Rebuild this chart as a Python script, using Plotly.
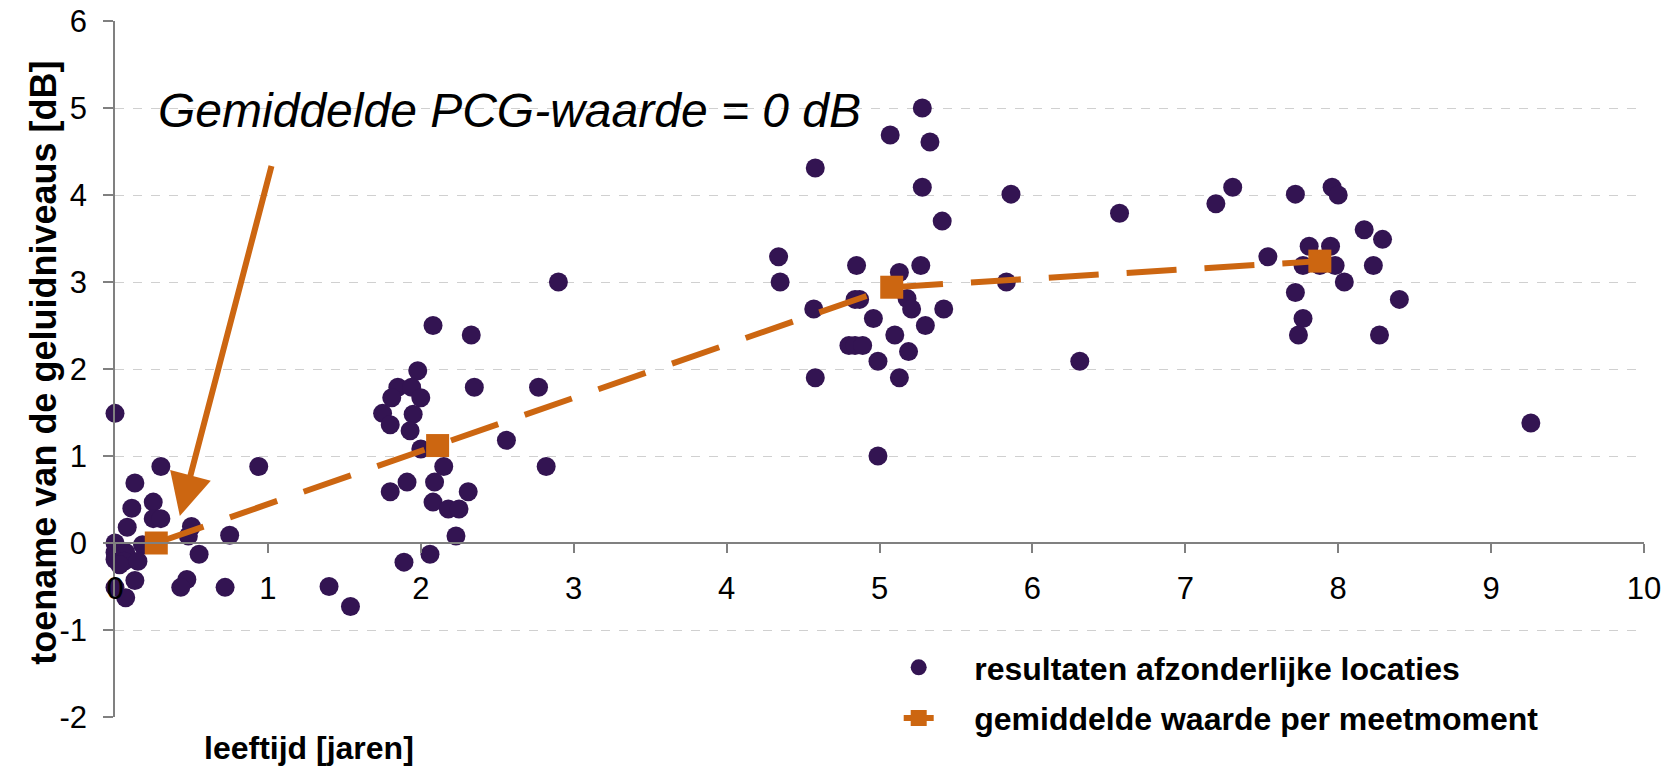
import plotly.graph_objects as go

# individual locations: age [years] and increase of noise level [dB]
age = [
    0.00, 0.30, 0.94, 0.13, 0.25, 0.11, 0.25, 0.30, 0.08, 0.50, 0.48, 0.75, 0.18, 0.00,
    0.00, 0.07, 0.00, 0.06, 0.15, 0.03, 0.55, 0.13, 0.47, 0.43, 0.72, 0.00, 0.07, 1.40, 1.54,
    2.08, 2.33, 1.98, 1.85, 1.94, 1.81, 2.00, 2.35, 2.77, 1.75, 1.95, 1.80, 1.93, 2.00,
    2.56, 2.15, 2.82, 1.91, 2.09, 1.80, 2.31, 2.08, 2.18, 2.25, 2.23, 2.06, 1.89, 2.90,
    5.28, 5.07, 5.33, 4.58, 5.28, 5.86, 5.41, 4.34, 4.35, 4.85, 5.27, 5.13, 5.83, 4.84,
    4.87, 5.18, 5.21, 5.42, 4.57, 4.96, 5.30, 5.10, 4.80, 4.84, 4.89, 5.19, 4.99, 4.58,
    5.13, 4.99, 6.57, 6.31,
    7.31, 7.20, 7.72, 7.96, 8.00, 7.54, 8.17, 8.29, 7.81, 7.95, 7.77, 7.88, 7.98, 8.23,
    8.04, 7.72, 8.40, 7.77, 7.74, 8.27, 9.26,
]
increase = [
    1.49, 0.88, 0.88, 0.69, 0.47, 0.40, 0.28, 0.28, 0.18, 0.19, 0.08, 0.09, -0.02, 0.00,
    -0.11, -0.11, -0.19, -0.21, -0.21, -0.25, -0.13, -0.43, -0.42, -0.51, -0.51, -0.51, -0.63, -0.50, -0.73,
    2.50, 2.39, 1.98, 1.79, 1.79, 1.67, 1.67, 1.79, 1.79, 1.49, 1.48, 1.36, 1.29, 1.08,
    1.18, 0.88, 0.88, 0.70, 0.70, 0.59, 0.59, 0.47, 0.39, 0.39, 0.08, -0.13, -0.22, 3.00,
    5.00, 4.69, 4.61, 4.31, 4.09, 4.01, 3.70, 3.29, 3.00, 3.19, 3.19, 3.11, 3.00, 2.80,
    2.80, 2.81, 2.69, 2.69, 2.69, 2.58, 2.50, 2.39, 2.27, 2.27, 2.27, 2.20, 2.09, 1.90,
    1.90, 1.00, 3.79, 2.09,
    4.09, 3.90, 4.01, 4.09, 4.00, 3.29, 3.60, 3.49, 3.41, 3.41, 3.19, 3.19, 3.19, 3.19,
    3.00, 2.88, 2.80, 2.58, 2.39, 2.39, 1.38,
]

# mean value per measurement moment
mean_age = [0.27, 2.11, 5.08, 7.88]
mean_increase = [0.00, 1.12, 2.94, 3.24]

x_ticks = list(range(0, 11))
y_ticks = list(range(-2, 7))

PURPLE = "#331452"
ORANGE = "#CC6611"
FONT = "Arial, Liberation Sans, sans-serif"
PAD = "\u00a0\u00a0\u00a0\u00a0"

fig = go.Figure()
fig.add_trace(go.Scatter(
    x=age, y=increase, mode="markers", name=PAD + "resultaten afzonderlijke locaties",
    marker=dict(color=PURPLE, size=19, line=dict(width=0)),
    cliponaxis=False, legendgroup="a",
))
fig.add_trace(go.Scatter(
    x=mean_age, y=mean_increase, mode="lines+markers", name=PAD + "gemiddelde waarde per meetmoment",
    line=dict(color=ORANGE, width=6, dash="50px,28px"),
    marker=dict(color=ORANGE, symbol="square", size=23, line=dict(width=0)),
    cliponaxis=False, legendgroup="b",
))

fig.update_layout(
    width=1675, height=769, autosize=False,
    margin=dict(l=115, r=31, t=21, b=52, autoexpand=False),
    paper_bgcolor="white", plot_bgcolor="white",
    font=dict(family=FONT, color="black"),
    showlegend=True,
    legend=dict(
        x=(899 - 115.3) / 1529, xanchor="left",
        y=(717 - 693) / 696, yanchor="middle",
        font=dict(family=FONT, size=32, color="black", weight="bold"),
        bgcolor="rgba(0,0,0,0)", traceorder="grouped", tracegroupgap=6,
    ),
    xaxis=dict(
        range=[0, 10], tickvals=x_ticks, ticktext=[str(v) for v in x_ticks],
        anchor="free", position=0.25, automargin=False,
        showline=True, linecolor="#808080", linewidth=1.5,
        ticks="outside", ticklen=9, tickcolor="#808080", tickwidth=1.5,
        ticklabelstandoff=9,
        showgrid=False, zeroline=False,
        tickfont=dict(family=FONT, size=31, color="black"),
    ),
    yaxis=dict(
        range=[-2, 6], tickvals=y_ticks, ticktext=[str(v) for v in y_ticks],
        automargin=False,
        showline=True, linecolor="#808080", linewidth=1.5,
        ticks="outside", ticklen=10, tickcolor="#808080", tickwidth=1.5,
        ticklabelstandoff=10,
        showgrid=True, gridcolor="#D0D0D0", griddash="dash", gridwidth=1,
        zeroline=False,
        tickfont=dict(family=FONT, size=31, color="black"),
    ),
)

fig.add_annotation(
    x=0.424, y=0.31, ax=1.026, ay=4.35, xref="x", yref="y", axref="x", ayref="y",
    text="", showarrow=True, arrowhead=2, arrowsize=1.4, arrowwidth=6,
    arrowcolor=ORANGE, standoff=0,
)
fig.add_annotation(
    x=0.27, y=4.97, xref="x", yref="y", xanchor="left", yanchor="middle",
    text="<i>Gemiddelde PCG-waarde = 0 dB</i>", showarrow=False,
    font=dict(family=FONT, size=48, color="black"),
)
fig.add_annotation(
    x=(43 - 115.3) / 1529, y=(717 - 363) / 696, xref="paper", yref="paper",
    text="<b>toename van de geluidniveaus [dB]</b>", textangle=-90, showarrow=False,
    xanchor="center", yanchor="middle",
    font=dict(family=FONT, size=36, color="black"),
)
fig.add_annotation(
    x=(309 - 115.3) / 1529, y=(717 - 748) / 696, xref="paper", yref="paper",
    text="<b>leeftijd [jaren]</b>", showarrow=False,
    xanchor="center", yanchor="middle",
    font=dict(family=FONT, size=32, color="black"),
)

fig.write_html(
    "out.html",
    config={"displayModeBar": False},
    post_script="document.body.style.margin='0';",
)
